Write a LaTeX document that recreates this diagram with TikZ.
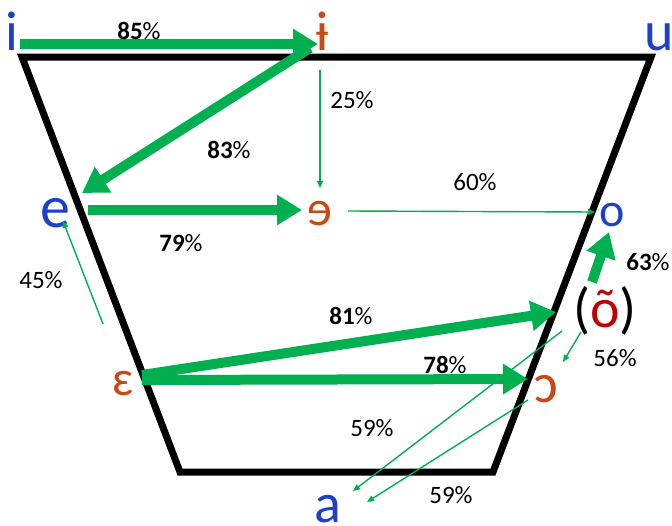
\documentclass[tikz,border=0pt]{standalone}
\usepackage{fontspec}
\setmainfont{Carlito}
\usetikzlibrary{arrows.meta}
\definecolor{vblue}{RGB}{28,64,200}
\definecolor{vorange}{RGB}{200,72,22}
\definecolor{vred}{RGB}{192,0,0}
\definecolor{vgreen}{RGB}{0,176,80}
\tikzset{
  vowel/.style={anchor=base,inner sep=0pt,font=\fontsize{56}{56}\selectfont},
  pct/.style={inner sep=0pt,font=\fontsize{25}{25}\selectfont},
  thick arrow/.style={draw=vgreen,line width=10pt,-{Triangle[width=29pt,length=25pt]}},
  thin arrow/.style={draw=vgreen,line width=1.4pt,-{Triangle[width=6pt,length=7pt]}},
  frame/.style={draw=black,line width=7pt,miter limit=10}
}
\begin{document}
\begin{tikzpicture}[x=1pt,y=-1pt]
\useasboundingbox (0,0) rectangle (672,525);
% trapezoid
\coordinate (tl) at (22,57);
\coordinate (tr) at (651,57);
\coordinate (br) at (493,472);
\coordinate (bl) at (180,472);
\draw[frame] (tl) -- (tr) -- (br) -- (bl) -- cycle;
% vowels
\node[vowel,text=vblue] (i) at (12,50) {i};
\node[vowel,text=vorange] (ibar) at (322,50) {ɨ};
\node[vowel,text=vblue] (u) at (659,50) {u};
\node[vowel,text=vblue,font=\fontsize{60}{60}\selectfont] (e) at (55,227) {e};
\node[vowel,text=vorange,font=\fontsize{50}{50}\selectfont] (schwa) at (320,225) {ɘ};
\node[vowel,text=vblue,font=\fontsize{48}{48}\selectfont] (o) at (612,226) {o};
\node[vowel] (onas) at (605,327) {(\textcolor{vred}{õ})};
\node[vowel,text=vorange,font=\fontsize{50}{50}\selectfont] (eps) at (123,395) {ɛ};
\node[vowel,text=vorange] (oo) at (546,402) {ɔ};
\node[vowel,text=vblue] (a) at (328,522) {a};
% arrow end points
\coordinate (p1s) at (20,44);   \coordinate (p1e) at (318,44);
\coordinate (p2s) at (310,48);  \coordinate (p2e) at (82,193);
\coordinate (p3s) at (88,210);  \coordinate (p3e) at (302,210);
\coordinate (p4s) at (142,375); \coordinate (p4e) at (556,312);
\coordinate (p5s) at (142,380); \coordinate (p5e) at (528,379);
\coordinate (p6s) at (592,282); \coordinate (p6e) at (609,232);
\coordinate (q1s) at (320,70);  \coordinate (q1e) at (320,188);
\coordinate (q2s) at (348,211); \coordinate (q2e) at (595,212);
\coordinate (q3s) at (103,324); \coordinate (q3e) at (63,221);
\coordinate (q4s) at (581,332); \coordinate (q4e) at (563,362);
\coordinate (q5s) at (562,331); \coordinate (q5e) at (353,491);
\coordinate (q6s) at (528,400); \coordinate (q6e) at (367,502);
% thick arrows
\draw[thick arrow] (p1s) -- (p1e);
\draw[thick arrow] (p2s) -- (p2e);
\draw[thick arrow] (p3s) -- (p3e);
\draw[thick arrow] (p4s) -- (p4e);
\draw[thick arrow] (p5s) -- (p5e);
\draw[thick arrow] (p6s) -- (p6e);
% thin arrows
\draw[thin arrow] (q1s) -- (q1e);
\draw[thin arrow] (q2s) -- (q2e);
\draw[thin arrow] (q3s) -- (q3e);
\draw[thin arrow] (q4s) -- (q4e);
\draw[thin arrow] (q5s) -- (q5e);
\draw[thin arrow] (q6s) -- (q6e);
% labels
\node[pct] (l85) at (139,31) {\textbf{85}\%};
\node[pct] (l83) at (229,150) {\textbf{83}\%};
\node[pct] (l79) at (181,243) {\textbf{79}\%};
\node[pct] (l25) at (352,100) {25\%};
\node[pct] (l60) at (475,182) {60\%};
\node[pct] (l81) at (351,316) {\textbf{81}\%};
\node[pct] (l78) at (445,365) {\textbf{78}\%};
\node[pct] (l63) at (648,262) {\textbf{63}\%};
\node[pct] (l56) at (615,358) {56\%};
\node[pct] (l59a) at (372,428) {59\%};
\node[pct] (l59b) at (451,495) {59\%};
\node[pct] (l45) at (41,280) {45\%};
\end{tikzpicture}
\end{document}
